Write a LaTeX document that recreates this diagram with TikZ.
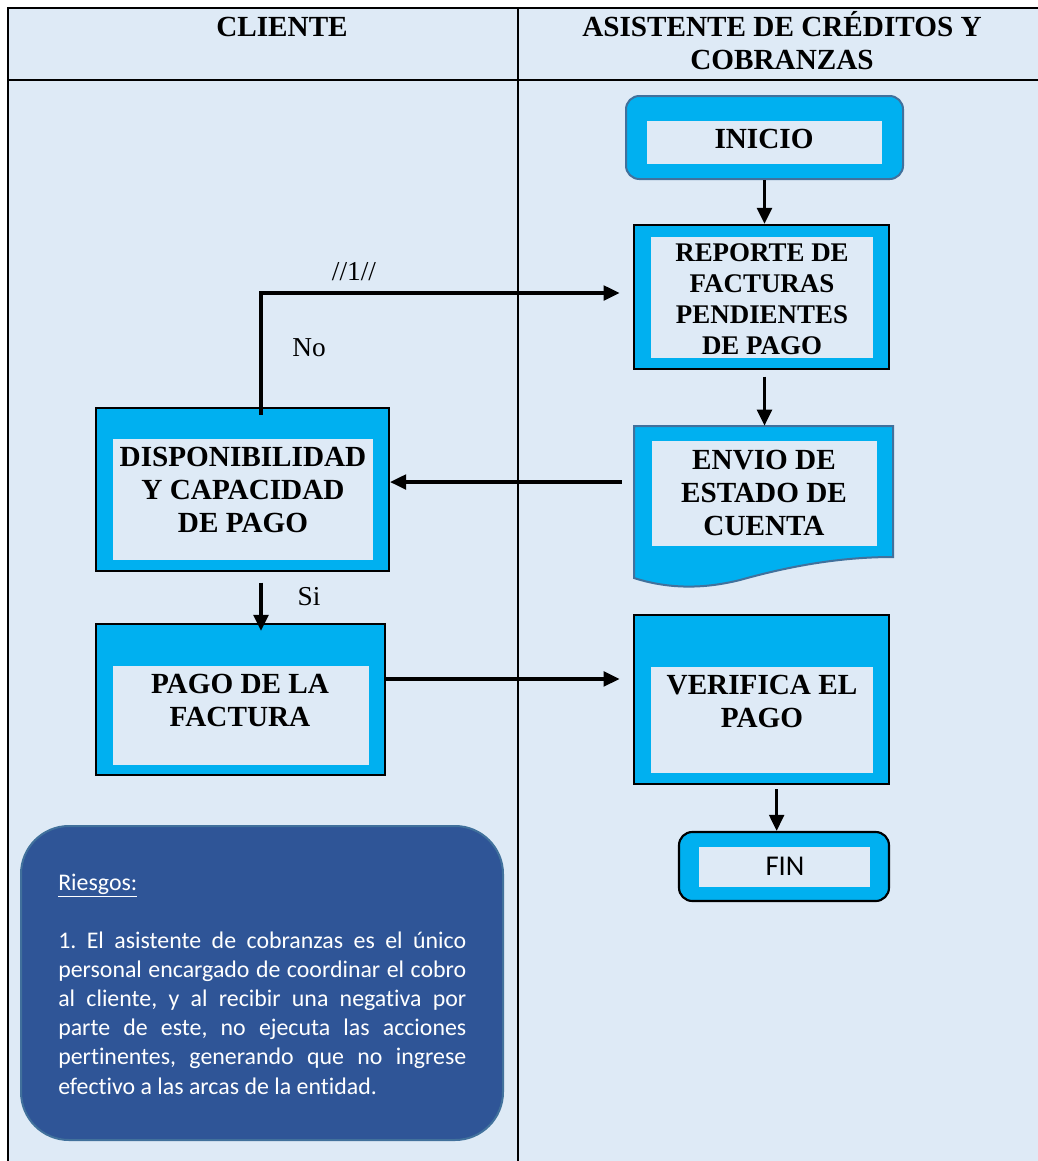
\documentclass[tikz,border=0pt]{standalone}
\usepackage{fontspec}
\setmainfont{Liberation Serif}
\newfontfamily\calib[RawFeature=-liga]{Carlito}
\usetikzlibrary{fit,arrows.meta}
\definecolor{lane}{HTML}{DEEAF6}
\definecolor{cyanf}{HTML}{00B0F0}
\definecolor{edgeb}{HTML}{41719C}
\definecolor{riskb}{HTML}{2F5597}
\frenchspacing
\begin{document}
\begin{tikzpicture}[x=0.75pt,y=-0.75pt,
  outerbox/.style={draw=black,line width=1.6pt,fill=cyanf,inner sep=0pt},
  roundbox/.style={draw=edgeb,line width=1.5pt,fill=cyanf,rounded corners=10pt,inner sep=0pt},
  innerbox/.style={fill=lane,inner sep=0pt},
  boxtext/.style={font=\bfseries\fontsize{21.9pt}{24.75pt}\selectfont,align=center,inner sep=0pt},
  lbl/.style={font=\fontsize{20.5pt}{24pt}\selectfont,inner sep=0pt},
  flow/.style={line width=2.4pt,-{Triangle[length=12pt,width=11pt]}},
  lanerule/.style={line width=1.5pt}
]
\useasboundingbox (0,0) rectangle (1038,1161);
% swimlane table
\fill[lane] (8,8) rectangle (1038,1161);
\draw[lanerule] (8,1161) -- (8,8) -- (1038,8);
\draw[lanerule] (8,80) -- (1038,80);
\draw[line width=1.1pt] (518,8) -- (518,1161);
\node[boxtext] (hcli) at (282,27) {CLIENTE};
\node[boxtext] (hasis) at (782,41) {ASISTENTE DE CRÉDITOS Y\\COBRANZAS};

% INICIO
\node[roundbox,fit={(626,96)(903,179)}] (inicio) {};
\node[innerbox,fit={(647,121)(882,164)}] (inicioIn) {};
\node[boxtext] (inicioT) at (764,139) {INICIO};

% REPORTE
\node[outerbox,fit={(634,225)(889,369)}] (reporte) {};
\node[innerbox,fit={(651,237)(873,358)}] (reporteIn) {};
\node[boxtext,font=\bfseries\fontsize{20.2pt}{23.25pt}\selectfont] (reporteT) at (762,299) {REPORTE DE\\FACTURAS\\PENDIENTES\\DE PAGO};

% ENVIO (document)
\node[inner sep=0pt,fit={(634,426)(893,578)}] (envio) {};
\draw[draw=edgeb,line width=1.5pt,fill=cyanf] (634,426) -- (893,426) -- (893,557)
  .. controls (840,557) and (790,566) .. (740,580)
  .. controls (700,590) and (665,588) .. (634,578) -- cycle;
\node[innerbox,fit={(652,441)(877,546)}] (envioIn) {};
\node[boxtext] (envioT) at (764,493) {ENVIO DE\\ESTADO DE\\CUENTA};

% DISPONIBILIDAD
\node[outerbox,fit={(96,408)(389,571)}] (disp) {};
\node[innerbox,fit={(113,439)(373,560)}] (dispIn) {};
\node[boxtext] (dispT) at (243,490) {DISPONIBILIDAD\\Y CAPACIDAD\\DE PAGO};

% PAGO
\node[outerbox,fit={(96,624)(385,775)}] (pago) {};
\node[innerbox,fit={(113,666)(369,765)}] (pagoIn) {};
\node[boxtext] (pagoT) at (240,700) {PAGO DE LA\\FACTURA};

% VERIFICA
\node[outerbox,fit={(634,615)(889,784)}] (verifica) {};
\node[innerbox,fit={(651,667)(873,773)}] (verificaIn) {};
\node[boxtext] (verificaT) at (762,701) {VERIFICA EL\\PAGO};

% FIN
\node[outerbox,rounded corners=10pt,fit={(679,832)(889,901)}] (fin) {};
\node[innerbox,fit={(699,847)(870,887)}] (finIn) {};
\node[font=\calib\fontsize{21.5pt}{24pt}\selectfont,inner sep=0pt] (finT) at (785,866) {FIN};

% connectors
\draw[flow] (inicio.south) -- (inicio.south |- reporte.north);
\draw[flow,shorten <=5pt] (inicio.south |- reporte.south) -- (inicio.south |- envio.north);
\coordinate (e2d) at ([yshift=5.6pt]disp.east);
\draw[flow,shorten <=9pt] (e2d -| envio.west) -- (e2d);
\coordinate (noelbow) at (261,293);
\draw[flow,shorten <=-6pt,shorten >=10pt] (noelbow |- disp.north) -- (noelbow) -- (noelbow -| reporte.west);
\draw[flow,shorten <=8pt,shorten >=-6pt] (noelbow |- disp.south) -- (noelbow |- pago.north);
\coordinate (p2v) at ([yshift=15.4pt]pago.east);
\draw[flow,shorten >=10pt] (p2v) -- (p2v -| verifica.west);
\coordinate (v2f) at ([xshift=-5.5pt]fin.north);
\draw[flow,shorten <=3pt] (v2f |- verifica.south) -- (v2f);

% labels
\node[lbl] (lblone) at (354,272) {//1//};
\node[lbl] (lblno) at (309,348) {No};
\node[lbl] (lblsi) at (309,597) {Si};

% Riesgos
\node[draw=edgeb,fill=riskb,rounded corners=36pt,line width=1.5pt,inner sep=0pt,fit={(21,826)(503,1140)}] (riesgos) {};
\node[anchor=base west,inner sep=0pt,text=white,font=\calib\fontsize{17.9pt}{21.9pt}\selectfont] (riskhead) at (58,890) {\underline{Riesgos:}};
\node[anchor=base west,inner sep=0pt,text width=306pt,align=justify,text=white,font=\calib\fontsize{17.9pt}{21.9pt}\selectfont] (risktext) at (58,948)
  {1. El asistente de cobranzas es el único\linebreak
   personal  encargado de coordinar el cobro\linebreak
   al cliente, y al recibir una negativa por\linebreak
   parte de este, no ejecuta las acciones\linebreak
   pertinentes, generando que no ingrese\linebreak
   efectivo a las arcas de la entidad.};
\end{tikzpicture}
\end{document}
